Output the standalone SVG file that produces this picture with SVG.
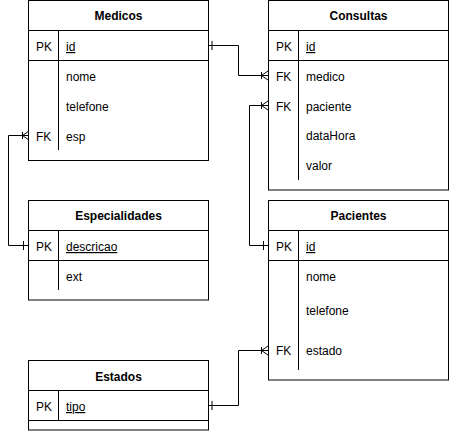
<svg xmlns="http://www.w3.org/2000/svg" width="449" height="431" viewBox="0 0 449 431">
<style>
text{font-family:"Liberation Sans",Arial,sans-serif;font-size:12px;fill:#000}
.t{font-weight:bold;text-anchor:middle}
.u{text-decoration:underline}
.box{fill:#fff;stroke:#000;stroke-width:1}
.ln{fill:none;stroke:#000;stroke-width:1}
</style>
<rect width="449" height="431" fill="#fff"/>
<g id="connectors" class="ln">
<path d="M209,45.5H238.5V75.5H268"/>
<path d="M212,41V50"/>
<path d="M261.5,72V79M261.5,75.5L268,71M261.5,75.5L268,80"/>
<path d="M268,105.5H249.5V245.5H268"/>
<path d="M261.5,102V109M261.5,105.5L268,101M261.5,105.5L268,110"/>
<path d="M263.5,241V250"/>
<path d="M29,135.5H8.5V245.5H29"/>
<path d="M22.5,132V139M22.5,135.5L29,131M22.5,135.5L29,140"/>
<path d="M23.5,241V250"/>
<path d="M209,405.5H238.5V350.5H268"/>
<path d="M212,401V410"/>
<path d="M261.5,347V354M261.5,350.5L268,346M261.5,350.5L268,355"/>
</g>
<g id="medicos">
<rect class="box" x="28.5" y="0.5" width="180" height="160"/>
<path class="ln" d="M28.5,30.5H208.5M28.5,60.5H208.5M58.5,30.5V150"/>
<text class="t" x="118.5" y="20">Medicos</text>
<text x="36" y="51">PK</text>
<text class="u" x="66" y="51">id</text>
<text x="66" y="80.5">nome</text>
<text x="66" y="110.5">telefone</text>
<text x="36" y="140.5">FK</text>
<text x="66" y="140.5">esp</text>
</g>
<g id="consultas">
<rect class="box" x="268.5" y="0.5" width="180" height="189.5"/>
<path class="ln" d="M268.5,30.5H448.5M268.5,60.5H448.5M298.5,30.5V180"/>
<text class="t" x="358.5" y="20">Consultas</text>
<text x="276" y="51">PK</text>
<text class="u" x="306" y="51">id</text>
<text x="276" y="80.5">FK</text>
<text x="306" y="80.5">medico</text>
<text x="276" y="110.5">FK</text>
<text x="306" y="110.5">paciente</text>
<text x="306" y="140">dataHora</text>
<text x="306" y="170">valor</text>
</g>
<g id="especialidades">
<rect class="box" x="28.5" y="200.5" width="180" height="99.5"/>
<path class="ln" d="M28.5,230.5H208.5M28.5,260.5H208.5M58.5,230.5V290"/>
<text class="t" x="118.5" y="220">Especialidades</text>
<text x="36" y="251">PK</text>
<text class="u" x="66" y="251">descricao</text>
<text x="66" y="280.5">ext</text>
</g>
<g id="pacientes">
<rect class="box" x="268.5" y="200.5" width="180" height="179.5"/>
<path class="ln" d="M268.5,230.5H448.5M268.5,260.5H448.5M298.5,230.5V370"/>
<text class="t" x="358.5" y="220">Pacientes</text>
<text x="276" y="251">PK</text>
<text class="u" x="306" y="251">id</text>
<text x="306" y="281">nome</text>
<text x="306" y="315">telefone</text>
<text x="276" y="354.5">FK</text>
<text x="306" y="354.5">estado</text>
</g>
<g id="estados">
<rect class="box" x="28.5" y="360.5" width="180" height="69.5"/>
<path class="ln" d="M28.5,390.5H208.5M28.5,420.5H208.5M58.5,390.5V420.5"/>
<text class="t" x="118.5" y="380.5">Estados</text>
<text x="36" y="411">PK</text>
<text class="u" x="66" y="411">tipo</text>
</g>
</svg>
